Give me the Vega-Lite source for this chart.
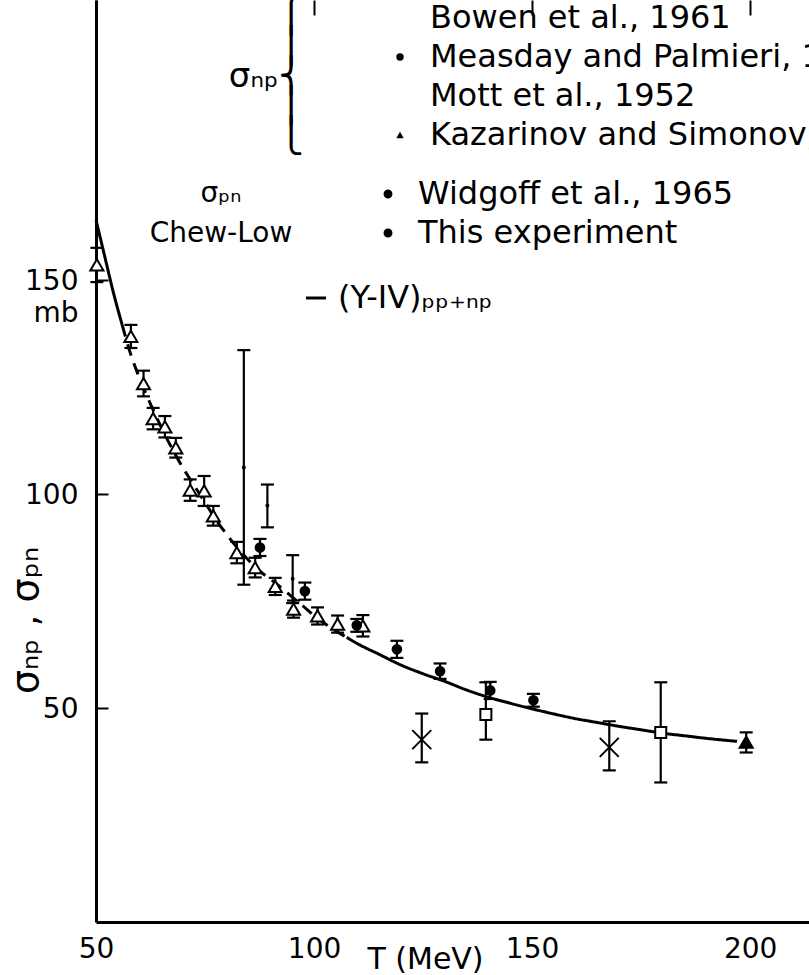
{
  "$schema": "https://vega.github.io/schema/vega-lite/v6.json",
  "width": 713,
  "height": 922,
  "autosize": {"type": "none"},
  "padding": {"left": 96, "top": 0, "right": 0, "bottom": 53},
  "background": "white",
  "config": {
    "view": {"stroke": null},
    "font": "DejaVu Sans",
    "axis": {"domainColor": "black", "tickColor": "black", "labelColor": "black", "titleColor": "black", "titleFontWeight": "normal"},
    "legend": {"labelColor": "black", "titleColor": "black", "titleFontWeight": "normal", "labelLimit": 600}
  },
  "datasets": {
    "points": [
      {"source": "Bowen et al., 1961", "group": "np", "T": 50.2, "sigma": 153.5, "lo": 149.5, "hi": 157.5},
      {"source": "Bowen et al., 1961", "group": "np", "T": 58.0, "sigma": 136.8, "lo": 134.1, "hi": 139.5},
      {"source": "Bowen et al., 1961", "group": "np", "T": 60.9, "sigma": 125.8, "lo": 122.8, "hi": 128.8},
      {"source": "Bowen et al., 1961", "group": "np", "T": 63.1, "sigma": 117.6, "lo": 115.1, "hi": 120.1},
      {"source": "Bowen et al., 1961", "group": "np", "T": 65.8, "sigma": 115.7, "lo": 113.2, "hi": 118.2},
      {"source": "Bowen et al., 1961", "group": "np", "T": 68.3, "sigma": 110.8, "lo": 108.5, "hi": 113.1},
      {"source": "Bowen et al., 1961", "group": "np", "T": 71.6, "sigma": 100.9, "lo": 98.4, "hi": 103.4},
      {"source": "Bowen et al., 1961", "group": "np", "T": 74.8, "sigma": 100.7, "lo": 97.2, "hi": 104.2},
      {"source": "Bowen et al., 1961", "group": "np", "T": 76.9, "sigma": 94.9, "lo": 92.6, "hi": 97.2},
      {"source": "Bowen et al., 1961", "group": "np", "T": 82.3, "sigma": 86.3, "lo": 83.8, "hi": 88.8},
      {"source": "Bowen et al., 1961", "group": "np", "T": 86.5, "sigma": 82.8, "lo": 80.5, "hi": 85.1},
      {"source": "Bowen et al., 1961", "group": "np", "T": 91.1, "sigma": 78.4, "lo": 76.4, "hi": 80.4},
      {"source": "Bowen et al., 1961", "group": "np", "T": 95.3, "sigma": 73.1, "lo": 71.1, "hi": 75.1},
      {"source": "Bowen et al., 1961", "group": "np", "T": 100.8, "sigma": 71.5, "lo": 69.5, "hi": 73.5},
      {"source": "Bowen et al., 1961", "group": "np", "T": 105.4, "sigma": 69.6, "lo": 67.6, "hi": 71.6},
      {"source": "Bowen et al., 1961", "group": "np", "T": 111.2, "sigma": 69.2, "lo": 66.7, "hi": 71.7},
      {"source": "Measday and Palmieri, 1965", "group": "np", "T": 87.6, "sigma": 87.5, "lo": 85.5, "hi": 89.5},
      {"source": "Measday and Palmieri, 1965", "group": "np", "T": 97.9, "sigma": 77.3, "lo": 75.3, "hi": 79.3},
      {"source": "Measday and Palmieri, 1965", "group": "np", "T": 109.8, "sigma": 69.3, "lo": 67.8, "hi": 70.8},
      {"source": "Measday and Palmieri, 1965", "group": "np", "T": 119.0, "sigma": 63.7, "lo": 61.7, "hi": 65.7},
      {"source": "Measday and Palmieri, 1965", "group": "np", "T": 128.9, "sigma": 58.6, "lo": 56.8, "hi": 60.4},
      {"source": "Measday and Palmieri, 1965", "group": "np", "T": 140.4, "sigma": 54.1, "lo": 52.1, "hi": 56.1},
      {"source": "Measday and Palmieri, 1965", "group": "np", "T": 150.3, "sigma": 51.8, "lo": 50.3, "hi": 53.3},
      {"source": "Mott et al., 1952", "group": "np", "T": 139.4, "sigma": 48.5, "lo": 42.6, "hi": 56.0},
      {"source": "Mott et al., 1952", "group": "np", "T": 179.5, "sigma": 44.3, "lo": 32.6, "hi": 56.0},
      {"source": "Kazarinov and Simonov, 1963", "group": "np", "T": 199.1, "sigma": 42.0, "lo": 39.6, "hi": 44.3},
      {"source": "Widgoff et al., 1965", "group": "pn", "T": 124.7, "sigma": 42.6, "lo": 37.3, "hi": 48.7},
      {"source": "Widgoff et al., 1965", "group": "pn", "T": 167.7, "sigma": 40.8, "lo": 35.4, "hi": 46.9},
      {"source": "This experiment", "group": "pn", "T": 83.9, "sigma": 106.2, "lo": 78.8, "hi": 133.6},
      {"source": "This experiment", "group": "pn", "T": 89.3, "sigma": 97.3, "lo": 92.2, "hi": 102.2},
      {"source": "This experiment", "group": "pn", "T": 95.1, "sigma": 80.2, "lo": 74.5, "hi": 85.7}
    ],
    "curve": [
      {"model": "(Y-IV)ₚₚ₊ₙₚ", "segment": "low", "T": 50, "sigma": 164},
      {"model": "(Y-IV)ₚₚ₊ₙₚ", "segment": "low", "T": 52, "sigma": 155.5},
      {"model": "(Y-IV)ₚₚ₊ₙₚ", "segment": "low", "T": 54, "sigma": 147},
      {"model": "(Y-IV)ₚₚ₊ₙₚ", "segment": "low", "T": 56, "sigma": 139.5},
      {"model": "(Y-IV)ₚₚ₊ₙₚ", "segment": "mid", "T": 56, "sigma": 139.5},
      {"model": "(Y-IV)ₚₚ₊ₙₚ", "segment": "mid", "T": 58, "sigma": 132.5},
      {"model": "(Y-IV)ₚₚ₊ₙₚ", "segment": "mid", "T": 60, "sigma": 127},
      {"model": "(Y-IV)ₚₚ₊ₙₚ", "segment": "mid", "T": 62.5, "sigma": 121},
      {"model": "(Y-IV)ₚₚ₊ₙₚ", "segment": "mid", "T": 65, "sigma": 115.5},
      {"model": "(Y-IV)ₚₚ₊ₙₚ", "segment": "mid", "T": 67.5, "sigma": 110.5},
      {"model": "(Y-IV)ₚₚ₊ₙₚ", "segment": "mid", "T": 70, "sigma": 106},
      {"model": "(Y-IV)ₚₚ₊ₙₚ", "segment": "mid", "T": 72.5, "sigma": 102},
      {"model": "(Y-IV)ₚₚ₊ₙₚ", "segment": "mid", "T": 75, "sigma": 98},
      {"model": "(Y-IV)ₚₚ₊ₙₚ", "segment": "mid", "T": 77.5, "sigma": 94},
      {"model": "(Y-IV)ₚₚ₊ₙₚ", "segment": "mid", "T": 80, "sigma": 90.5},
      {"model": "(Y-IV)ₚₚ₊ₙₚ", "segment": "mid", "T": 82.5, "sigma": 87.3},
      {"model": "(Y-IV)ₚₚ₊ₙₚ", "segment": "mid", "T": 85, "sigma": 84.5},
      {"model": "(Y-IV)ₚₚ₊ₙₚ", "segment": "mid", "T": 87.5, "sigma": 82},
      {"model": "(Y-IV)ₚₚ₊ₙₚ", "segment": "mid", "T": 90, "sigma": 80.1},
      {"model": "(Y-IV)ₚₚ₊ₙₚ", "segment": "mid", "T": 92.5, "sigma": 78.1},
      {"model": "(Y-IV)ₚₚ₊ₙₚ", "segment": "mid", "T": 95, "sigma": 75.9},
      {"model": "(Y-IV)ₚₚ₊ₙₚ", "segment": "mid", "T": 97.5, "sigma": 73.8},
      {"model": "(Y-IV)ₚₚ₊ₙₚ", "segment": "mid", "T": 100, "sigma": 71.6},
      {"model": "(Y-IV)ₚₚ₊ₙₚ", "segment": "mid", "T": 102.5, "sigma": 69.7},
      {"model": "(Y-IV)ₚₚ₊ₙₚ", "segment": "mid", "T": 105, "sigma": 68.0},
      {"model": "(Y-IV)ₚₚ₊ₙₚ", "segment": "mid", "T": 107.5, "sigma": 66.5},
      {"model": "(Y-IV)ₚₚ₊ₙₚ", "segment": "high", "T": 107.5, "sigma": 66.5},
      {"model": "(Y-IV)ₚₚ₊ₙₚ", "segment": "high", "T": 110, "sigma": 65},
      {"model": "(Y-IV)ₚₚ₊ₙₚ", "segment": "high", "T": 115, "sigma": 62.5},
      {"model": "(Y-IV)ₚₚ₊ₙₚ", "segment": "high", "T": 120, "sigma": 60},
      {"model": "(Y-IV)ₚₚ₊ₙₚ", "segment": "high", "T": 125, "sigma": 58},
      {"model": "(Y-IV)ₚₚ₊ₙₚ", "segment": "high", "T": 130, "sigma": 56.2},
      {"model": "(Y-IV)ₚₚ₊ₙₚ", "segment": "high", "T": 135, "sigma": 54.2},
      {"model": "(Y-IV)ₚₚ₊ₙₚ", "segment": "high", "T": 140, "sigma": 52.5},
      {"model": "(Y-IV)ₚₚ₊ₙₚ", "segment": "high", "T": 145, "sigma": 51.1},
      {"model": "(Y-IV)ₚₚ₊ₙₚ", "segment": "high", "T": 150, "sigma": 49.8},
      {"model": "(Y-IV)ₚₚ₊ₙₚ", "segment": "high", "T": 155, "sigma": 48.6},
      {"model": "(Y-IV)ₚₚ₊ₙₚ", "segment": "high", "T": 160, "sigma": 47.5},
      {"model": "(Y-IV)ₚₚ₊ₙₚ", "segment": "high", "T": 165, "sigma": 46.6},
      {"model": "(Y-IV)ₚₚ₊ₙₚ", "segment": "high", "T": 170, "sigma": 45.7},
      {"model": "(Y-IV)ₚₚ₊ₙₚ", "segment": "high", "T": 175, "sigma": 44.9},
      {"model": "(Y-IV)ₚₚ₊ₙₚ", "segment": "high", "T": 180, "sigma": 44.1},
      {"model": "(Y-IV)ₚₚ₊ₙₚ", "segment": "high", "T": 185, "sigma": 43.5},
      {"model": "(Y-IV)ₚₚ₊ₙₚ", "segment": "high", "T": 190, "sigma": 42.9},
      {"model": "(Y-IV)ₚₚ₊ₙₚ", "segment": "high", "T": 197, "sigma": 42.2}
    ]
  },
  "layer": [
    {
      "data": {"name": "curve"},
      "mark": {"type": "line", "strokeWidth": 3, "interpolate": "monotone"},
      "encoding": {
        "x": {
          "field": "T", "type": "quantitative", "title": "T (MeV)",
          "scale": {"domain": [50, 213.5], "nice": false, "zero": false},
          "axis": {
            "values": [50, 100, 150, 200], "ticks": false, "domainWidth": 3,
            "grid": true, "gridDash": [15, 3000], "gridWidth": 2, "gridColor": "black", "gridOpacity": 1,
            "labelFontSize": 28, "labelPadding": 13, "labelFlush": false, "labelOverlap": false,
            "titleFontSize": 30, "titleX": 329, "titleY": 22, "titleBaseline": "top", "titleAlign": "center"
          }
        },
        "y": {
          "field": "sigma", "type": "quantitative", "title": "σₙₚ , σₚₙ",
          "scale": {"domain": [0, 215.4], "nice": false, "zero": false},
          "axis": {
            "values": [50, 100, 150], "ticks": false, "domainWidth": 3,
            "grid": true, "gridDash": [12, 3000], "gridWidth": 2, "gridColor": "black", "gridOpacity": 1,
            "labelFontSize": 28, "labelPadding": 18, "labelAlign": "right", "labelBaseline": "top",
            "labelOffset": -12, "labelLineHeight": 32, "labelOverlap": false, "labelFlush": false,
            "labelExpr": "datum.value == 150 ? ['150', 'mb'] : datum.label",
            "titleFontSize": 38, "titleX": -70, "titleY": 620, "titleAngle": 270, "titleAlign": "center", "titleBaseline": "middle"
          }
        },
        "strokeDash": {
          "field": "segment", "type": "nominal",
          "scale": {"domain": ["low", "mid", "high"], "range": [[1, 0], [12, 8], [1, 0]]},
          "legend": null
        },
        "color": {
          "field": "model", "type": "nominal",
          "scale": {"range": ["black"]},
          "legend": {
            "orient": "none", "legendX": 204, "legendY": 282, "title": null,
            "labelFontSize": 32, "symbolType": "stroke", "symbolSize": 400, "symbolStrokeWidth": 3, "labelOffset": 6
          }
        }
      }
    },
    {
      "data": {"name": "points"},
      "mark": {"type": "errorbar", "ticks": {"size": 13, "thickness": 2.2, "color": "black", "opacity": 1}, "rule": {"strokeWidth": 2.2, "color": "black", "opacity": 1}},
      "encoding": {
        "x": {"field": "T", "type": "quantitative", "title": "T (MeV)"},
        "y": {"field": "lo", "type": "quantitative", "title": "σₙₚ , σₚₙ"},
        "y2": {"field": "hi"}
      }
    },
    {
      "data": {"name": "points"},
      "transform": [{"filter": {"field": "group", "equal": "np"}}],
      "mark": {"type": "point", "filled": true, "stroke": "black", "strokeWidth": 2, "opacity": 1},
      "encoding": {
        "x": {"field": "T", "type": "quantitative", "title": "T (MeV)"},
        "y": {"field": "sigma", "type": "quantitative", "title": "σₙₚ , σₚₙ"},
        "shape": {
          "field": "source", "type": "nominal",
          "scale": {
            "domain": ["Bowen et al., 1961", "Measday and Palmieri, 1965", "Mott et al., 1952", "Kazarinov and Simonov, 1963", "Widgoff et al., 1965", "This experiment"],
            "range": ["triangle-up", "circle", "square", "triangle-up", "M-1,-1L1,1M-1,1L1,-1", "circle"]
          },
          "legend": {
            "orient": "none", "legendX": 133, "legendY": 2,
            "values": ["Bowen et al., 1961", "Measday and Palmieri, 1965", "Mott et al., 1952", "Kazarinov and Simonov, 1963"],
            "title": ["⎧", "⎪", "σₙₚ⎨", "⎪", "⎩"], "titleOrient": "left", "titleAlign": "right",
            "titleFontSize": 34, "titleLineHeight": 30, "titlePadding": 4,
            "labelFontSize": 32, "labelOffset": 14, "rowPadding": 7, "symbolSize": 55,
            "symbolStrokeWidth": 1.5, "symbolStrokeColor": "black"
          }
        },
        "fill": {
          "field": "source", "type": "nominal",
          "scale": {
            "domain": ["Bowen et al., 1961", "Measday and Palmieri, 1965", "Mott et al., 1952", "Kazarinov and Simonov, 1963", "Widgoff et al., 1965", "This experiment"],
            "range": ["white", "black", "white", "black", "white", "white"]
          },
          "legend": {
            "orient": "none", "legendX": 133, "legendY": 2,
            "values": ["Bowen et al., 1961", "Measday and Palmieri, 1965", "Mott et al., 1952", "Kazarinov and Simonov, 1963"],
            "title": ["⎧", "⎪", "σₙₚ⎨", "⎪", "⎩"], "titleOrient": "left", "titleAlign": "right",
            "titleFontSize": 34, "titleLineHeight": 30, "titlePadding": 4,
            "labelFontSize": 32, "labelOffset": 14, "rowPadding": 7, "symbolSize": 55,
            "symbolStrokeWidth": 1.5, "symbolStrokeColor": "black"
          }
        },
        "size": {
          "field": "source", "type": "nominal",
          "scale": {
            "type": "ordinal",
            "domain": ["Bowen et al., 1961", "Measday and Palmieri, 1965", "Mott et al., 1952", "Kazarinov and Simonov, 1963", "Widgoff et al., 1965", "This experiment"],
            "range": [170, 75, 121, 170, 110, 140]
          },
          "legend": null
        }
      }
    },
    {
      "data": {"name": "points"},
      "transform": [{"filter": {"field": "group", "equal": "pn"}}],
      "mark": {"type": "point", "filled": true, "strokeWidth": 2, "opacity": 1},
      "encoding": {
        "x": {"field": "T", "type": "quantitative", "title": "T (MeV)"},
        "y": {"field": "sigma", "type": "quantitative", "title": "σₙₚ , σₚₙ"},
        "shape": {"field": "source", "type": "nominal"},
        "fill": {"field": "source", "type": "nominal"},
        "size": {"field": "source", "type": "nominal", "legend": null},
        "stroke": {
          "field": "source", "type": "nominal",
          "scale": {"domain": ["Widgoff et al., 1965", "This experiment"], "range": ["black", "black"]},
          "legend": {
            "orient": "none", "legendX": 54, "legendY": 178,
            "title": ["σₚₙ", "Chew-Low"], "titleOrient": "left", "titleAlign": "center",
            "titleFontSize": 28, "titleLineHeight": 40, "titlePadding": 8,
            "labelFontSize": 32, "labelOffset": 14, "rowPadding": 7, "symbolSize": 55,
            "symbolStrokeWidth": 1.5,
            "encode": {
              "symbols": {
                "update": {
                  "shape": {"signal": "datum.value === 'Widgoff et al., 1965' ? 'M-1,-1L1,1M-1,1L1,-1' : 'circle'"},
                  "fill": {"value": "white"},
                  "stroke": {"value": "black"},
                  "strokeWidth": {"value": 1.5}
                }
              }
            }
          }
        }
      }
    }
  ]
}
